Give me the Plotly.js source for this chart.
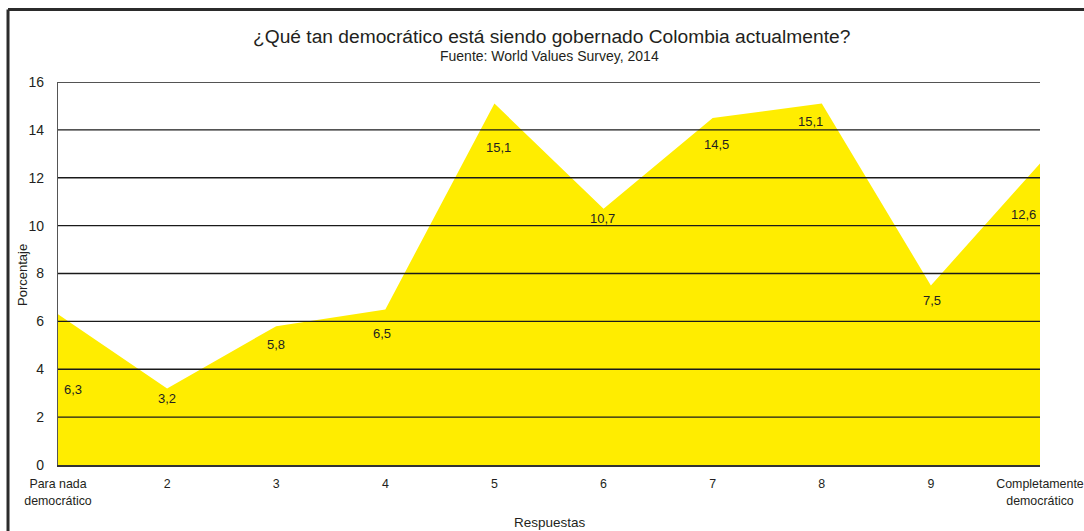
<!DOCTYPE html>
<html>
<head>
<meta charset="utf-8">
<script src="https://cdn.plot.ly/plotly-3.0.1.min.js"></script>
<style>html,body{margin:0;padding:0;background:#fff;}#chart{width:1084px;height:531px;}</style>
</head>
<body>
<div id="chart"></div>
<script>
// ---- data ----
var respuestas = [1, 2, 3, 4, 5, 6, 7, 8, 9, 10];
var tickLabels = ["Para nada<br>democrático", "2", "3", "4", "5", "6", "7", "8", "9", "Completamente<br>democrático"];
var porcentaje = [6.3, 3.2, 5.8, 6.5, 15.1, 10.7, 14.5, 15.1, 7.5, 12.6];
var yTicks = [0, 2, 4, 6, 8, 10, 12, 14, 16];

// ---- label styling (pixel offsets of the value labels) ----
var labelDown = [75, 10, 18, 24, 44, 10, 27, 18, 15, 51];
var labelShiftX = [4, 0, 0, -3, 4, -1, 4, -11, 1, -2];
var labelAnchor = ["left", "center", "center", "center", "center", "center", "center", "center", "center", "right"];

var FONT = "Liberation Sans, Arial, Helvetica, sans-serif";
var TXT = "#231f20";

var trace = {
  x: respuestas,
  y: porcentaje,
  type: "scatter",
  mode: "lines",
  fill: "tozeroy",
  fillcolor: "#ffed00",
  line: {width: 0, color: "#ffed00"},
  hoverinfo: "skip"
};

var annotations = porcentaje.map(function (v, i) {
  return {
    x: respuestas[i], y: v, xref: "x", yref: "y",
    text: v.toFixed(1).replace(".", ","),
    showarrow: false,
    xanchor: labelAnchor[i], yanchor: "middle",
    xshift: labelShiftX[i], yshift: -labelDown[i],
    font: {family: FONT, size: 13, color: TXT}
  };
});
annotations.push({
  xref: "paper", yref: "paper", x: 0.5025, y: 1.1175, xanchor: "center", yanchor: "middle",
  text: "¿Qué tan democrático está siendo gobernado Colombia actualmente?",
  showarrow: false, font: {family: FONT, size: 19.2, color: TXT}
});
annotations.push({
  xref: "paper", yref: "paper", x: 0.500, y: 1.068, xanchor: "center", yanchor: "middle",
  text: "Fuente: World Values Survey, 2014",
  showarrow: false, font: {family: FONT, size: 14, color: TXT}
});
annotations.push({
  xref: "paper", yref: "paper", x: -0.0367, y: 0.496, xanchor: "center", yanchor: "middle",
  text: "Porcentaje", textangle: -90,
  showarrow: false, font: {family: FONT, size: 13, color: TXT}
});
annotations.push({
  xref: "paper", yref: "paper", x: 0.501, y: -0.1505, xanchor: "center", yanchor: "middle",
  text: "Respuestas",
  showarrow: false, font: {family: FONT, size: 13.5, color: TXT}
});

var shapes = yTicks.filter(function (t) { return t > 0; }).map(function (t) {
  return {type: "line", layer: "above", xref: "paper", yref: "y", x0: 0, x1: 1, y0: t, y1: t,
          line: {color: "#1a1a1a", width: 1.3}};
});
// frame (top and left edges)
shapes.push({type: "line", layer: "above", xref: "paper", yref: "paper",
  x0: -0.0509, x1: 1.06, y0: 1.189, y1: 1.189, line: {color: "#2b2b2b", width: 3}});
shapes.push({type: "line", layer: "above", xref: "paper", yref: "paper",
  x0: -0.0509, x1: -0.0509, y0: 1.189, y1: -0.2, line: {color: "#2b2b2b", width: 3}});

var layout = {
  width: 1084, height: 531,
  margin: {l: 58, r: 44, t: 82, b: 66},
  paper_bgcolor: "#ffffff", plot_bgcolor: "#ffffff",
  showlegend: false,
  font: {family: FONT, color: TXT, size: 13},
  xaxis: {
    range: [1, 10], tickmode: "array", tickvals: respuestas, ticktext: tickLabels,
    showgrid: false, zeroline: false, showline: true, linecolor: "#333", linewidth: 1.5,
    ticks: "", ticklabelstandoff: 7, ticklabeloverflow: "allow",
    tickfont: {family: FONT, size: 12.4, color: TXT},
    layer: "above traces", fixedrange: true
  },
  yaxis: {
    range: [0, 16], tickmode: "array", tickvals: yTicks,
    showgrid: false, zeroline: false, showline: true, linecolor: "#555", linewidth: 1.2,
    ticks: "", ticklabelstandoff: 10,
    tickfont: {family: FONT, size: 14, color: TXT},
    layer: "above traces", fixedrange: true
  },
  annotations: annotations,
  shapes: shapes
};

Plotly.newPlot("chart", [trace], layout, {displayModeBar: false, staticPlot: true});
</script>
</body>
</html>
